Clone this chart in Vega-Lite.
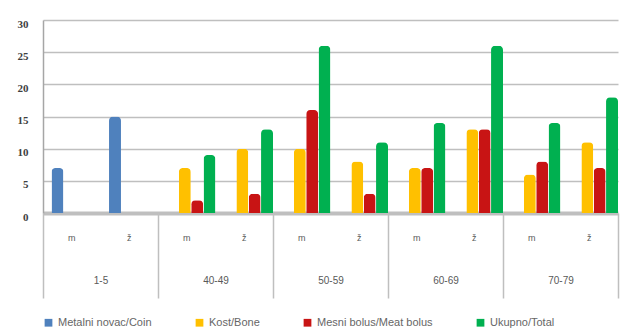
{
  "$schema": "https://vega.github.io/schema/vega-lite/v6.json",
  "width": 575,
  "height": 193,
  "autosize": {"type": "none"},
  "padding": {"left": 43, "top": 20, "right": 3, "bottom": 118},
  "background": "white",
  "config": {
    "view": {"stroke": null},
    "font": "Liberation Sans"
  },
  "data": {
    "values": [
      {"key": "1-5|m", "age": "1-5", "sex": "m", "series": "Metalni novac/Coin", "value": 7},
      {"key": "1-5|ž", "age": "1-5", "sex": "ž", "series": "Metalni novac/Coin", "value": 15},
      {"key": "40-49|m", "age": "40-49", "sex": "m", "series": "Kost/Bone", "value": 7},
      {"key": "40-49|m", "age": "40-49", "sex": "m", "series": "Mesni bolus/Meat bolus", "value": 2},
      {"key": "40-49|m", "age": "40-49", "sex": "m", "series": "Ukupno/Total", "value": 9},
      {"key": "40-49|ž", "age": "40-49", "sex": "ž", "series": "Kost/Bone", "value": 10},
      {"key": "40-49|ž", "age": "40-49", "sex": "ž", "series": "Mesni bolus/Meat bolus", "value": 3},
      {"key": "40-49|ž", "age": "40-49", "sex": "ž", "series": "Ukupno/Total", "value": 13},
      {"key": "50-59|m", "age": "50-59", "sex": "m", "series": "Kost/Bone", "value": 10},
      {"key": "50-59|m", "age": "50-59", "sex": "m", "series": "Mesni bolus/Meat bolus", "value": 16},
      {"key": "50-59|m", "age": "50-59", "sex": "m", "series": "Ukupno/Total", "value": 26},
      {"key": "50-59|ž", "age": "50-59", "sex": "ž", "series": "Kost/Bone", "value": 8},
      {"key": "50-59|ž", "age": "50-59", "sex": "ž", "series": "Mesni bolus/Meat bolus", "value": 3},
      {"key": "50-59|ž", "age": "50-59", "sex": "ž", "series": "Ukupno/Total", "value": 11},
      {"key": "60-69|m", "age": "60-69", "sex": "m", "series": "Kost/Bone", "value": 7},
      {"key": "60-69|m", "age": "60-69", "sex": "m", "series": "Mesni bolus/Meat bolus", "value": 7},
      {"key": "60-69|m", "age": "60-69", "sex": "m", "series": "Ukupno/Total", "value": 14},
      {"key": "60-69|ž", "age": "60-69", "sex": "ž", "series": "Kost/Bone", "value": 13},
      {"key": "60-69|ž", "age": "60-69", "sex": "ž", "series": "Mesni bolus/Meat bolus", "value": 13},
      {"key": "60-69|ž", "age": "60-69", "sex": "ž", "series": "Ukupno/Total", "value": 26},
      {"key": "70-79|m", "age": "70-79", "sex": "m", "series": "Kost/Bone", "value": 6},
      {"key": "70-79|m", "age": "70-79", "sex": "m", "series": "Mesni bolus/Meat bolus", "value": 8},
      {"key": "70-79|m", "age": "70-79", "sex": "m", "series": "Ukupno/Total", "value": 14},
      {"key": "70-79|ž", "age": "70-79", "sex": "ž", "series": "Kost/Bone", "value": 11},
      {"key": "70-79|ž", "age": "70-79", "sex": "ž", "series": "Mesni bolus/Meat bolus", "value": 7},
      {"key": "70-79|ž", "age": "70-79", "sex": "ž", "series": "Ukupno/Total", "value": 18}
    ]
  },
  "layer": [
    {
      "mark": {"type": "bar", "cornerRadiusTopLeft": 4, "cornerRadiusTopRight": 4},
      "encoding": {
        "x": {
          "field": "key",
          "type": "nominal",
          "scale": {
            "domain": ["1-5|m", "1-5|ž", "40-49|m", "40-49|ž", "50-59|m", "50-59|ž", "60-69|m", "60-69|ž", "70-79|m", "70-79|ž"],
            "paddingInner": 0,
            "paddingOuter": 0
          },
          "axis": {
            "orient": "bottom",
            "title": null,
            "labelAngle": 0,
            "labelExpr": "split(datum.label, '|')[1]",
            "ticks": false,
            "domain": false,
            "labelPadding": 20,
            "labelFontSize": 9,
            "labelColor": "#595959"
          }
        },
        "xOffset": {
          "field": "series",
          "type": "nominal",
          "scale": {
            "domain": ["Metalni novac/Coin", "Kost/Bone", "Mesni bolus/Meat bolus", "Ukupno/Total"],
            "paddingOuter": 0.345,
            "paddingInner": 0.03,
            "align": 1
          }
        },
        "y": {
          "field": "value",
          "type": "quantitative",
          "scale": {"domain": [0, 30]},
          "axis": {
            "title": null,
            "values": [0, 5, 10, 15, 20, 25, 30],
            "labelOverlap": false,
            "labelFlush": false,
            "ticks": false,
            "domainColor": "#a6a6a6",
            "domainWidth": 1.5,
            "gridColor": "#bfbfbf",
            "gridWidth": {"condition": {"test": "datum.value === 0", "value": 4}, "value": 1.5},
            "labelPadding": 15,
            "labelOffset": 4,
            "labelFont": "Liberation Serif",
            "labelFontWeight": "bold",
            "labelFontSize": 11,
            "labelColor": "#404040"
          }
        },
        "color": {
          "field": "series",
          "type": "nominal",
          "scale": {
            "domain": ["Metalni novac/Coin", "Kost/Bone", "Mesni bolus/Meat bolus", "Ukupno/Total"],
            "range": ["#4F81BD", "#FFC000", "#C81414", "#00B050"]
          },
          "legend": {
            "orient": "bottom",
            "direction": "horizontal",
            "title": null,
            "symbolType": "square",
            "symbolSize": 60,
            "labelFontSize": 11,
            "labelColor": "#666666",
            "columnPadding": 42,
            "offset": 18,
            "padding": 0
          }
        }
      }
    },
    {
      "mark": {"type": "tick", "opacity": 0},
      "encoding": {
        "x": {
          "field": "age",
          "type": "nominal",
          "scale": {
            "domain": ["1-5", "40-49", "50-59", "60-69", "70-79"],
            "paddingInner": 0,
            "paddingOuter": 0
          },
          "axis": {
            "orient": "bottom",
            "title": null,
            "labelAngle": 0,
            "tickBand": "extent",
            "tickSize": 85,
            "tickColor": "#bfbfbf",
            "tickWidth": 1.5,
            "domain": false,
            "labelPadding": -23,
            "labelFontSize": 10,
            "labelColor": "#595959"
          }
        }
      }
    }
  ],
  "resolve": {"scale": {"x": "independent"}, "axis": {"x": "independent"}}
}
